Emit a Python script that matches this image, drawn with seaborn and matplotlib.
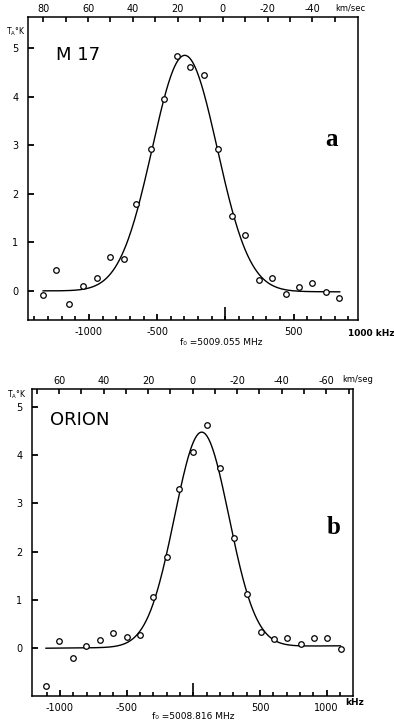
import numpy as np
import pandas as pd
import matplotlib
matplotlib.use("Agg")
import matplotlib.pyplot as plt
import seaborn as sns

# ---------------- data ----------------
a_freq = [-1338, -1241, -1144, -1046, -944, -847, -742, -652, -548, -453, -355, -258,
          -156, -56, 46, 146, 243, 345, 443, 540, 637, 735, 832]
a_temp = [-0.08, 0.43, -0.28, 0.09, 0.27, 0.69, 0.66, 1.79, 2.93, 3.96, 4.83, 4.61,
          4.44, 2.92, 1.55, 1.16, 0.23, 0.26, -0.06, 0.07, 0.17, -0.03, -0.14]

b_freq = [-1107, -1005, -905, -805, -700, -600, -500, -400, -300, -200, -105, 0,
          100, 200, 305, 405, 505, 605, 705, 805, 905, 1005, 1105]
b_temp = [-0.78, 0.14, -0.21, 0.04, 0.16, 0.32, 0.23, 0.28, 1.06, 1.88, 3.30, 4.06,
          4.63, 3.74, 2.29, 1.13, 0.34, 0.20, 0.21, 0.09, 0.21, 0.22, -0.01]

# Gaussian fit parameters (amplitude K, centre kHz, sigma kHz, baseline left/right K, range kHz)
a_fit = dict(amp=4.86, center=-298, sigma=238, base_l=0.0, base_r=-0.02, lo=-1338, hi=840)
b_fit = dict(amp=4.45, center=63, sigma=204, base_l=0.0, base_r=0.05, lo=-1107, hi=1105)

# velocity scale: v = -(f - f_vzero)/khz_per_kms
a_vel = dict(f_vzero=-20, k=16.45, unit="km/sec")
b_vel = dict(f_vzero=-4.5, k=16.7, unit="km/seg")

a_top_labels = [80, 60, 40, 20, 0, -20, -40]
b_top_labels = [60, 40, 20, 0, -20, -40, -60]
a_bottom_labels = [-1000, -500, 500]
b_bottom_labels = [-1000, -500, 500, 1000]

a_name, b_name = "M 17", "ORION"
a_f0 = "f₀ =5009.055 MHz"
b_f0 = "f₀ =5008.816 MHz"

# ---------------- style ----------------
sns.set_style("ticks")
plt.rcParams["font.family"] = ["DejaVu Sans"]
plt.rcParams["axes.linewidth"] = 1.1
plt.rcParams["text.color"] = "black"
plt.rcParams["xtick.color"] = "black"
plt.rcParams["ytick.color"] = "black"
plt.rcParams["axes.edgecolor"] = "black"

W, H = 394, 723
fig = plt.figure(figsize=(W / 100, H / 100), dpi=100)


def fit_curve(p):
    x = np.linspace(p["lo"], p["hi"], 400)
    base = p["base_l"] + (p["base_r"] - p["base_l"]) * (x - p["lo"]) / (p["hi"] - p["lo"])
    y = base + p["amp"] * np.exp(-0.5 * ((x - p["center"]) / p["sigma"]) ** 2)
    return pd.DataFrame({"f": x, "T": y})


def panel(rect_px, freq, temp, fit, vel, top_labels, bot_labels, xlim, ylim,
          name, name_pos, letter, letter_pos, f0text, f0x, ylab_pos, unit_pos,
          khz_text, khz_pos, top_minor, bot_minor):
    l, t, r, b = rect_px
    ax = fig.add_axes([l / W, 1 - b / H, (r - l) / W, (b - t) / H])
    sns.lineplot(data=fit_curve(fit), x="f", y="T", ax=ax, color="black", lw=1.0,
                 estimator=None, sort=False)
    pts = pd.DataFrame({"f": freq, "T": temp})
    sns.scatterplot(data=pts, x="f", y="T", ax=ax, marker="o", s=16,
                    facecolor="white", edgecolor="black", linewidth=0.9, zorder=3)
    ax.set_xlim(*xlim)
    ax.set_ylim(*ylim)
    ax.set_xlabel("")
    ax.set_ylabel("")
    for s in ax.spines.values():
        s.set_visible(True)
        s.set_linewidth(1.1)
        s.set_color("black")

    # bottom axis (kHz)
    ax.set_xticks(bot_labels)
    ax.set_xticklabels([str(v) for v in bot_labels])
    ax.set_xticks(bot_minor, minor=True)
    ax.tick_params(axis="x", which="major", direction="in", length=4.5, width=1.3,
                   labelsize=7, pad=5, top=False, bottom=True, color="black")
    ax.tick_params(axis="x", which="minor", direction="in", length=3.2, width=1.2,
                   top=False, bottom=True, color="black")
    # left axis
    ax.set_yticks([0, 1, 2, 3, 4, 5])
    ax.tick_params(axis="y", which="major", direction="in", length=4, width=1.3,
                   labelsize=7, pad=7, right=False, left=True, color="black")

    # long center tick at f = 0
    cen = ax.secondary_xaxis("bottom")
    cen.set_xticks([0])
    cen.set_xticklabels([""])
    cen.tick_params(direction="in", length=9.5, width=1.2, color="black")
    cen.spines["bottom"].set_visible(False)

    # top axis (velocity)
    f2v = lambda f: -(np.asarray(f) - vel["f_vzero"]) / vel["k"]
    v2f = lambda v: -np.asarray(v) * vel["k"] + vel["f_vzero"]
    top = ax.secondary_xaxis("top", functions=(f2v, v2f))
    top.set_xticks(top_labels)
    top.set_xticklabels([str(v) for v in top_labels])
    top.set_xticks(top_minor, minor=True)
    top.tick_params(which="major", direction="in", length=3.5, width=1.2, labelsize=7,
                    pad=2, color="black")
    top.tick_params(which="minor", direction="in", length=3.5, width=1.2, color="black")
    top.spines["top"].set_visible(False)

    ax.text(unit_pos[0], unit_pos[1], vel["unit"], transform=ax.transAxes,
            fontsize=6, ha="left", va="center", clip_on=False)
    ax.text(khz_pos[0], khz_pos[1], khz_text, transform=ax.transAxes,
            fontsize=6.5, ha="left", va="center", clip_on=False, fontweight="bold")
    ax.text(ylab_pos[0], ylab_pos[1], r"$\mathregular{T_A}$°K", transform=ax.transAxes,
            fontsize=5.5, ha="left", va="center", clip_on=False)
    ax.text(name_pos[0], name_pos[1], name, transform=ax.transAxes,
            fontsize=13, ha="left", va="center")
    ax.text(letter_pos[0], letter_pos[1], letter, transform=ax.transAxes,
            fontsize=18, ha="center", va="center", fontweight="bold",
            family=["Liberation Serif", "DejaVu Serif"])
    ax.text(f0x, f0text[1], f0text[0], transform=ax.get_xaxis_transform(),
            fontsize=6.5, ha="center", va="center", clip_on=False)
    return ax


# panel a: axes box in pixels (left, top, right, bottom)
panel((28, 17, 358, 320), a_freq, a_temp, a_fit, a_vel, a_top_labels, a_bottom_labels,
      (-1447, 972), (-0.6, 5.64), a_name, (0.085, 0.875), "a", (0.92, 0.595),
      (a_f0, -0.075), -30, (-0.066, 0.95), (0.93, 1.03), "1000 kHz", (0.97, -0.043),
      list(range(-50, 90, 10)), list(range(-1400, 1000, 100)))

panel((32, 389, 353, 696), b_freq, b_temp, b_fit, b_vel, b_top_labels, b_bottom_labels,
      (-1210, 1198), (-0.99, 5.37), b_name, (0.055, 0.9), "b", (0.94, 0.55),
      (b_f0, -0.068), 0, (-0.078, 0.98), (0.965, 1.03), "kHz", (0.975, -0.022),
      list(range(-70, 80, 10)), list(range(-1100, 1200, 100)))

fig.savefig("out.png", dpi=100, facecolor="white")
